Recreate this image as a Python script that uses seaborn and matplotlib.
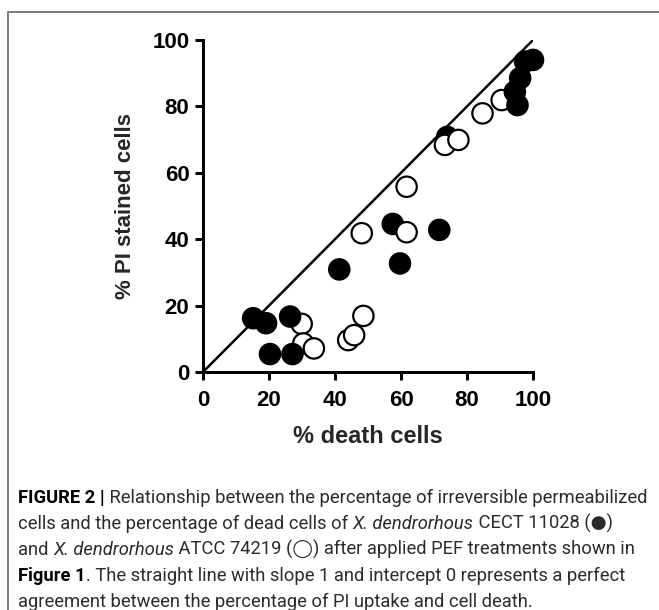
import numpy as np
import pandas as pd
import matplotlib
matplotlib.use("Agg")
import matplotlib.pyplot as plt
import seaborn as sns
from matplotlib.lines import Line2D

# ---------------------------------------------
# DATA: % death cells vs % PI stained cells
# ---------------------------------------------
# X. dendrorhous CECT 11028 (filled circles); first n_behind sit under open ones
cect_death = [74.0, 57.5, 15.2, 19.1, 26.4, 20.3, 27.1, 41.3, 59.7, 71.6,
              97.6, 100.0, 96.1, 94.5, 95.3]
cect_pi = [70.8, 44.6, 16.2, 14.7, 16.7, 5.4, 5.4, 30.9, 32.7, 42.8,
           93.5, 94.0, 88.5, 84.4, 80.4]
n_behind = 2

# X. dendrorhous ATCC 74219 (open circles)
atcc_death = [29.9, 30.4, 33.6, 44.0, 45.8, 48.6, 48.1, 61.7, 61.7, 73.3,
              77.4, 84.7, 90.5]
atcc_pi = [14.5, 8.6, 7.1, 9.6, 11.1, 16.9, 41.8, 42.1, 55.8, 68.4,
           69.9, 77.9, 81.9]

# line of perfect agreement: slope 1, intercept 0
ref_x = [0, 100]
ref_y = [0, 100]

ticks = [0, 20, 40, 60, 80, 100]
xlabel = "% death cells"
ylabel = "% PI stained cells"

cect = pd.DataFrame({"death": cect_death, "pi": cect_pi, "strain": "CECT 11028"})
atcc = pd.DataFrame({"death": atcc_death, "pi": atcc_pi, "strain": "ATCC 74219"})
# drawing order inside one collection
df = pd.concat([cect.iloc[:n_behind], atcc, cect.iloc[n_behind:]], ignore_index=True)

# ---------------------------------------------
# FIGURE
# ---------------------------------------------
sns.set_theme(style="ticks")
plt.rcParams["font.family"] = ["Liberation Sans", "DejaVu Sans"]

W, H = 659, 610
fig = plt.figure(figsize=(W / 100, H / 100), dpi=100)
px = 72 / 100  # points per pixel

ax = fig.add_axes([203 / W, 1 - 372 / H, 330 / W, 332 / H])
ax.plot(ref_x, ref_y, color="black", lw=2.5 * px, zorder=2)
sns.scatterplot(data=df, x="death", y="pi", hue="strain",
                palette={"CECT 11028": "black", "ATCC 74219": "white"},
                edgecolor="black", linewidth=2.2 * px, s=215,
                legend=False, ax=ax, zorder=3, clip_on=False)

ax.set_xlim(0, 100)
ax.set_ylim(0, 100)
ax.set_xticks(ticks)
ax.set_yticks(ticks)
for s in ["top", "right"]:
    ax.spines[s].set_visible(False)
for s in ["left", "bottom"]:
    ax.spines[s].set_linewidth(3 * px)
    ax.spines[s].set_color("black")
ax.tick_params(axis="both", length=8 * px, width=3 * px, color="black",
               labelsize=16, labelcolor="black")
ax.tick_params(axis="x", pad=7)
ax.tick_params(axis="y", pad=4)
for lab in ax.get_xticklabels() + ax.get_yticklabels():
    lab.set_fontweight("bold")
ax.set_xlabel(xlabel, fontsize=17, fontweight="bold", labelpad=10)
ax.set_ylabel(ylabel, fontsize=16, fontweight="bold", labelpad=12)
ax.grid(False)

# frame of the figure panel (top and left edges)
fig.add_artist(Line2D([8 / W, 1], [1 - 12 / H, 1 - 12 / H], color="#7f7f7f",
                      lw=2 * px, transform=fig.transFigure))
fig.add_artist(Line2D([8 / W, 8 / W], [0, 1 - 12 / H], color="#7f7f7f",
                      lw=2 * px, transform=fig.transFigure))

# ---------------------------------------------
# CAPTION (mixed styles, placed piece by piece)
# ---------------------------------------------
N, B, I = "normal", "bold", "italic"
caption = [
    [("FIGURE 2 |", B), (" Relationship between the percentage of irreversible permeabilized", N)],
    [("cells and the percentage of dead cells of ", N), ("X. dendrorhous", I), (" CECT 11028 (●)", N)],
    [("and ", N), ("X. dendrorhous", I), (" ATCC 74219 (◯) after applied PEF treatments shown in", N)],
    [("Figure 1", B), (". The straight line with slope 1 and intercept 0 represents a perfect", N)],
    [("agreement between the percentage of PI uptake and cell death.", N)],
]
renderer = fig.canvas.get_renderer()
cap_font = ["Roboto", "DejaVu Sans"]


def props(style, size):
    p = {"fontsize": size, "color": "#2b2b2b", "family": cap_font}
    if style == B:
        p["fontweight"] = "bold"
        p["color"] = "black"
    if style == I:
        p["fontstyle"] = "italic"
    return p


def width(text, style, size):
    t = fig.text(0, 0, text + "|", **props(style, size))
    bar = fig.text(0, 0, "|", **props(style, size))
    w = t.get_window_extent(renderer).width - bar.get_window_extent(renderer).width
    t.remove()
    bar.remove()
    return w


x0, target = 18, 630
w10 = sum(width(t, s, 10) for t, s in caption[0])
size = 10 * target / w10

baseline0, step = 503, 26
for i, line in enumerate(caption):
    x = x0
    y = 1 - (baseline0 + i * step) / H
    for text, style in line:
        fig.text(x / W, y, text, va="baseline", ha="left", **props(style, size))
        x += width(text, style, size)

fig.savefig("out.png", dpi=100)
